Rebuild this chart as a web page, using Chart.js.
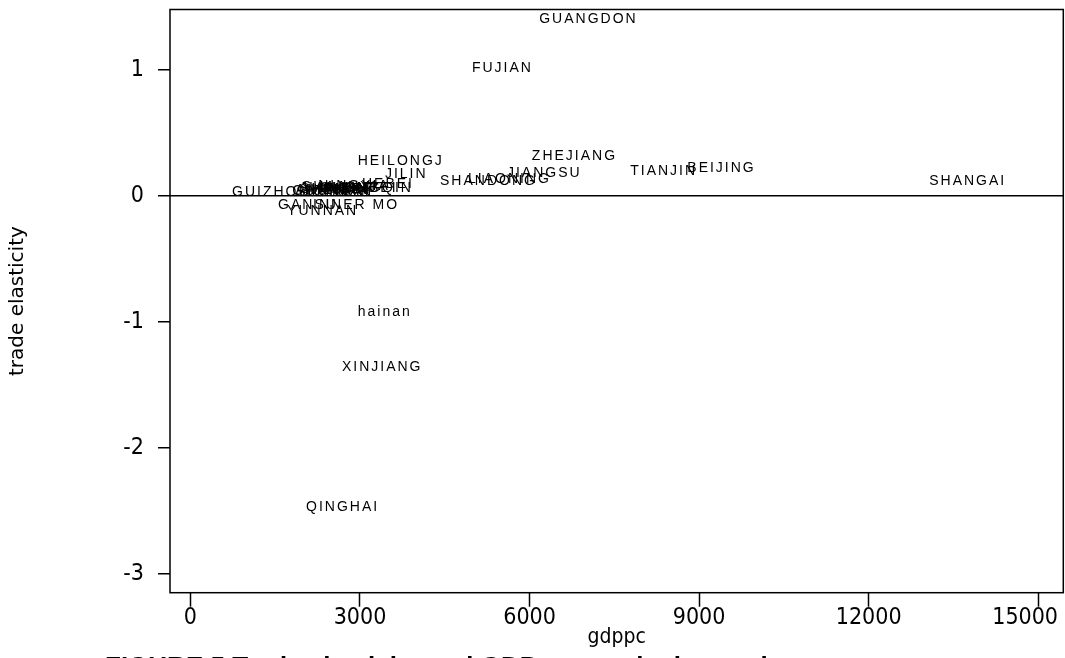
<!DOCTYPE html>
<html><head><meta charset="utf-8">
<script src="https://cdn.jsdelivr.net/npm/chart.js@4"></script>
<style>
html,body{margin:0;padding:0;background:#fff;overflow:hidden;width:1065px;height:658px;position:relative}
#cap{position:absolute;left:105px;top:651px;font:bold 26px "Liberation Sans",Arial,sans-serif;color:#000;white-space:nowrap}
</style>
</head><body>
<canvas id="c" width="1065" height="658"></canvas>
<div id="cap">FIGURE 5 Trade elasticity and GDP per capita in provinces</div>
<script>
const provinces = ['GUANGDON','FUJIAN','ZHEJIANG','JIANGSU','TIANJIN','BEIJING','SHANGAI','SHANDONG','LIAONING','HEILONGJ','JILIN','HEBEI','HUBEI','SHANXI','HENAN','HUNAN','ANHUI','JIANGXI','GUANGXI','SICHUAN','CHONGQIN','SHAANXI','NINGXIA','TIBET','GUIZHOU','GANSU','YUNNAN','INNER MO','hainan','XINJIANG','QINGHAI'];
const gdppc = [6100,4910,5970,5530,7710,8720,13000,4345,4840,2890,3370,2965,2660,1870,2050,1960,1790,1870,1730,1800,2220,1900,2190,2300,665,1480,1640,2100,2890,2610,1975];
const elasticity = [1.405,1.012,0.317,0.183,0.198,0.222,0.119,0.119,0.135,0.274,0.175,0.095,0.063,0.056,0.048,0.04,0.048,0.063,0.04,0.032,0.063,0.071,0.079,0.056,0.028,-0.071,-0.119,-0.071,-0.921,-1.357,-2.468];
const xTicks = [0,3000,6000,9000,12000,15000];
const yTicks = [-3,-2,-1,0,1];
const xTitle = 'gdppc';
const yTitle = 'trade elasticity';

const tickFont = {family:"'Liberation Sans Narrow','DejaVu Sans Condensed',sans-serif", size:23};

const labelPlugin = {
  id:'mlabels',
  afterDatasetsDraw(chart){
    const ctx = chart.ctx;
    const meta = chart.getDatasetMeta(0);
    ctx.save();
    ctx.font = '14px "Liberation Sans", Arial, sans-serif';
    try{ ctx.letterSpacing = '2px'; }catch(e){}
    ctx.fillStyle = '#000';
    ctx.textBaseline = 'middle';
    ctx.textAlign = 'left';
    meta.data.forEach((pt,i)=>{ ctx.fillText(provinces[i], pt.x + 4, pt.y); });
    ctx.restore();
  }
};
const framePlugin = {
  id:'frame',
  afterDraw(chart){
    const a = chart.chartArea, ctx = chart.ctx;
    ctx.save();
    ctx.strokeStyle = '#000';
    ctx.lineWidth = 1.5;
    ctx.strokeRect(a.left, a.top, a.right - a.left, a.bottom - a.top);
    ctx.restore();
  }
};

new Chart(document.getElementById('c'), {
  type:'scatter',
  data:{ datasets:[{ data: gdppc.map((v,i)=>({x:v, y:elasticity[i]})), pointRadius:0, pointHoverRadius:0, showLine:false }]},
  options:{
    responsive:false, animation:false, devicePixelRatio:1,
    layout:{ padding:{ top:9.5, right:1.7, left:0, bottom:0 } },
    plugins:{ legend:{display:false}, tooltip:{enabled:false}, title:{display:false} },
    events:[],
    scales:{
      x:{
        type:'linear', min:-361, max:15443,
        afterBuildTicks(axis){ axis.ticks = xTicks.map(v=>({value:v})); },
        afterFit(axis){ axis.height = 65.3; axis.paddingLeft = 0; axis.paddingRight = 0; },
        border:{display:false},
        grid:{ drawOnChartArea:false, drawTicks:true, tickLength:14, tickColor:'#000', tickWidth:1.5, color:'#000' },
        ticks:{ color:'#000', font:tickFont, padding:-2, maxRotation:0, autoSkip:false,
                callback:(v)=> v===xTicks[xTicks.length-1] ? String(v)+'    ' : String(v) },
        title:{ display:true, text:xTitle, color:'#000', font:{family:tickFont.family, size:21}, padding:{top:0,bottom:8} }
      },
      y:{
        type:'linear', min:-3.148, max:1.48,
        afterBuildTicks(axis){ axis.ticks = yTicks.map(v=>({value:v})); },
        afterFit(axis){ axis.width = 170; axis.paddingTop = 0; axis.paddingBottom = 0; },
        border:{display:false},
        grid:{ drawOnChartArea:true, drawTicks:true, tickLength:12, tickColor:'#000', tickWidth:1.5,
               lineWidth:1.5, color:(c)=> (c.tick && c.tick.value===0) ? '#000' : 'rgba(0,0,0,0)' },
        ticks:{ color:'#000', font:tickFont, padding:14, callback:(v)=>String(v) },
        title:{ display:true, text:yTitle, color:'#000', font:{family:"'DejaVu Sans',sans-serif", size:20}, padding:{top:6,bottom:0} }
      }
    }
  },
  plugins:[labelPlugin, framePlugin]
});
</script>
</body></html>
